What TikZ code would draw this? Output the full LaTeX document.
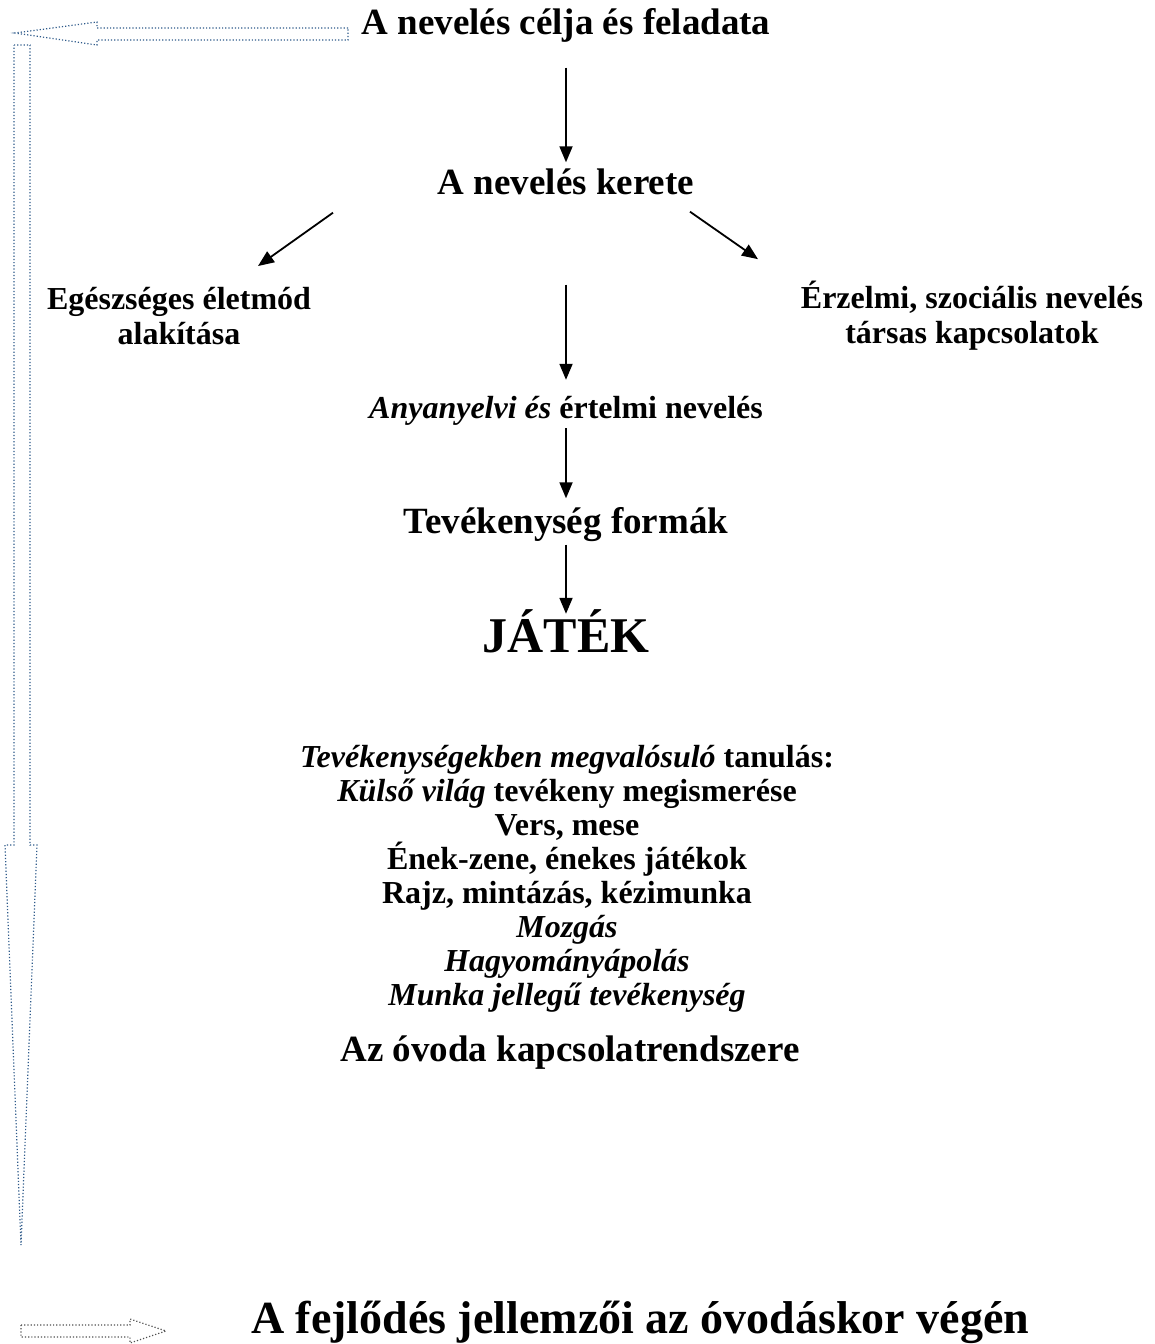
\documentclass[tikz,border=0pt]{standalone}
\usepackage{fontspec}
\setmainfont{Liberation Serif}
\usetikzlibrary{arrows.meta,calc}
\definecolor{hollowblue}{HTML}{2E5A8A}
\definecolor{hollowgray}{HTML}{505050}
\tikzset{
    big/.style={font=\fontsize{37}{42}\selectfont\bfseries, inner sep=0pt, text height=28pt, text depth=9pt},
    small/.style={font=\fontsize{32}{35}\selectfont\bfseries, inner sep=0pt, align=center},
    arr/.style={-{Triangle[length=16pt,width=13pt]}, line width=1.8pt},
    hollow/.style={draw=hollowblue, dotted, line width=1.2pt}
}
\begin{document}
\begin{tikzpicture}[x=1pt,y=-1pt]
    \useasboundingbox (0,0) rectangle (1155,1344);

    %Titles
    \node[big] (cel) at (566,25) {A nevelés célja és feladata};
    \node[big] (keret) at (566,185) {A nevelés kerete};
    \node[small] (egesz) at (179,316) {Egészséges életmód\\alakítása};
    \node[small] (erzelmi) at (972,316) {Érzelmi, szociális nevelés\\társas kapcsolatok};
    \node[small, text height=24pt, text depth=8pt] (anya) at (566,410) {\textit{Anyanyelvi és} értelmi nevelés};
    \node[big] (forma) at (566,524) {Tevékenység formák};
    \node[big, font=\fontsize{50}{56}\selectfont\bfseries, text height=37pt, text depth=13pt] (jatek) at (566,640) {JÁTÉK};

    %Learning list
    \node[small, font=\fontsize{32}{34}\selectfont\bfseries] (tanulas) at (567,879) {\textit{Tevékenységekben megvalósuló} tanulás:\\
        \textit{Külső világ} tevékeny megismerése\\
        Vers, mese\\
        Ének-zene, énekes játékok\\
        Rajz, mintázás, kézimunka\\
        \textit{Mozgás}\\
        \textit{Hagyományápolás}\\
        \textit{Munka jellegű tevékenység}};

    \node[big] (kapcsolat) at (570,1052) {Az óvoda kapcsolatrendszere};
    \node[big, font=\fontsize{46}{50}\selectfont\bfseries, anchor=base] (fejlodes) at (640,1333) {A fejlődés jellemzői az óvodáskor végén};

    %Arrows
    \draw[arr, shorten <=24pt, shorten >=4pt] (cel) -- (keret);
    \draw[arr] ($(keret.south)+(-233,9)$) -- ($(egesz.north)+(79,-21)$);
    \draw[arr] ($(keret.south)+(124,8)$) -- ($(erzelmi.north)+(-214,-22)$);
    \draw[arr, shorten <=81pt, shorten >=14pt] (keret) -- (anya);
    \draw[arr, shorten <=2pt, shorten >=7pt] (anya) -- (forma);
    \draw[arr, shorten <=2pt, shorten >=1pt] (forma) -- (jatek);

    %Hollow arrow top
    \draw[hollow] (348,28) -- (97,28) -- (97,22) -- (15,33) -- (97,45) -- (97,40) -- (348,40) -- cycle;

    %Hollow arrow down
    \draw[hollow] (14,45) -- (30,45) -- (30,845) -- (37,845) -- (21,1245) -- (5,845) -- (14,845) -- cycle;

    %Hollow arrow bottom
    \draw[hollow, draw=hollowgray] (21,1325) -- (130,1325) -- (130,1319) -- (166,1331) -- (130,1343) -- (130,1337) -- (21,1337) -- cycle;
\end{tikzpicture}
\end{document}
